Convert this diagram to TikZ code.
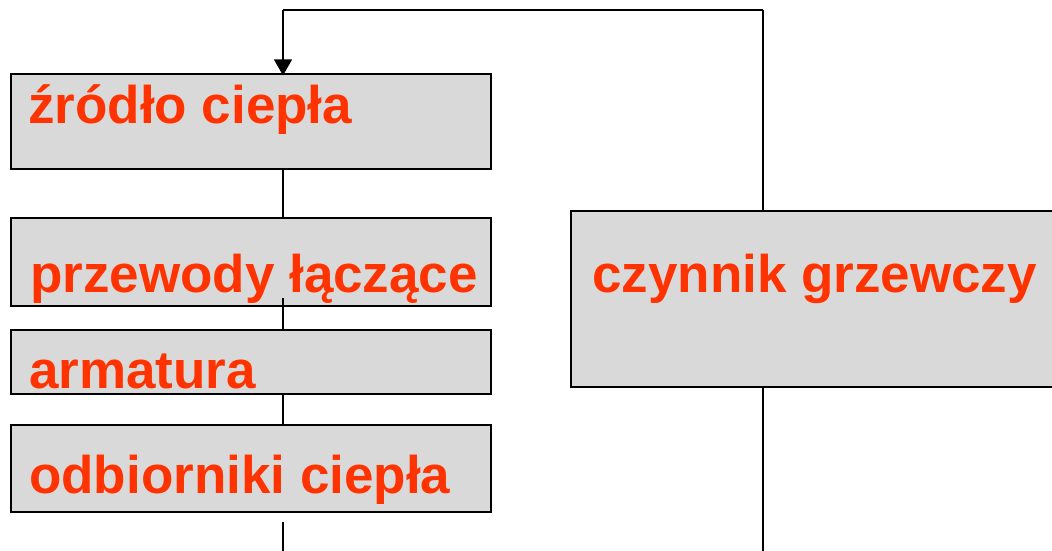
\documentclass[tikz,border=0pt]{standalone}
\usepackage{fontspec}
\setmainfont{Liberation Sans}
\usetikzlibrary{arrows.meta}
\definecolor{txt}{HTML}{FF3300}
\definecolor{boxfill}{HTML}{D9D9D9}
\begin{document}
\begin{tikzpicture}[x=1pt,y=-1pt,
  box/.style={draw=black, fill=boxfill, line width=2.8pt, rectangle, inner sep=0pt, outer sep=0pt, anchor=north west},
  lbl/.style={anchor=base west, inner sep=0pt, text=txt, font=\bfseries\fontsize{53}{60}\selectfont},
  wire/.style={line width=1.5pt, black}]
\useasboundingbox (0,0) rectangle (1052,551);
\clip (0,0) rectangle (1052,551);
% boxes
\node[box, minimum width=480pt, minimum height=95pt] (b1) at (11,74) {};
\node[box, minimum width=480pt, minimum height=88pt] (b2) at (11,218) {};
\node[box, minimum width=480pt, minimum height=64pt] (b3) at (11,330) {};
\node[box, minimum width=480pt, minimum height=87pt] (b4) at (11,425) {};
\node[box, minimum width=520pt, minimum height=176pt] (b5) at (571,211) {};
% labels
\node[lbl] (t1) at (28,123) {źródło ciepła};
\node[lbl] (t2) at (30,292) {przewody łączące};
\node[lbl] (t3) at (29,388) {armatura};
\node[lbl] (t4) at (29,493) {odbiorniki ciepła};
\node[lbl] (t5) at (592,292) {czynnik grzewczy};
% coordinates
\coordinate (ax) at (283,10);
\coordinate (rx) at (763,10);
\coordinate (c2) at (283,298);
\coordinate (c4) at (283,522);
\coordinate (bot) at (283,551);
% connectors
\draw[wire] (rx) -- (ax);
\draw[wire, -{Triangle[width=18pt,length=16pt]}] (ax) -- ([yshift=-1.4pt]b1.north -| ax);
\draw[wire] (rx) -- (b5.north -| rx);
\draw[wire] (b1.south -| ax) -- (b2.north -| ax);
\draw[wire] (c2) -- (b3.north -| ax);
\draw[wire] (b3.south -| ax) -- (b4.north -| ax);
\draw[wire] (c4) -- (bot);
\draw[wire] (b5.south -| rx) -- (rx |- bot);
\end{tikzpicture}
\end{document}
